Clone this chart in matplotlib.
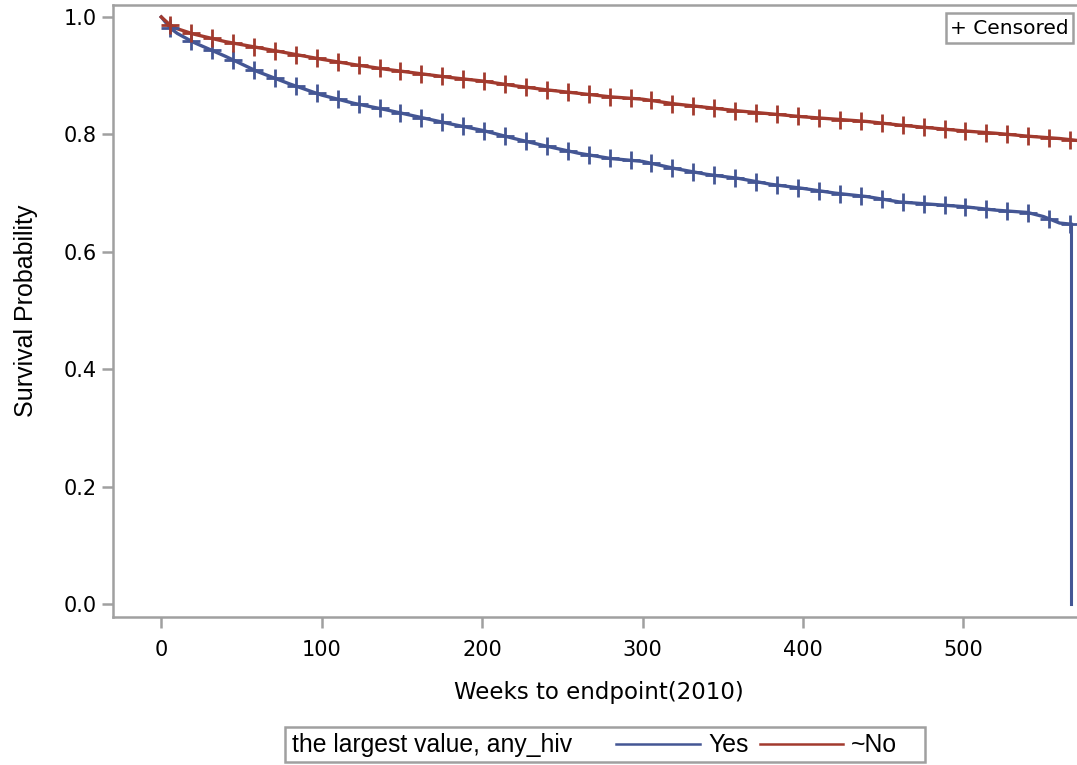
import matplotlib
matplotlib.use("Agg")
import matplotlib.pyplot as plt
from matplotlib.patches import Rectangle
from matplotlib.lines import Line2D
import numpy as np

# Kaplan-Meier estimates, weeks to endpoint (2010)
weeks_yes = [0, 5.6, 10, 20, 40, 60, 80, 100, 120, 140, 160, 180, 200, 220, 240,
             260, 280, 300, 320, 340, 360, 380, 400, 420, 440, 460, 480, 500,
             520, 540, 550, 560, 567.3, 567.3]
surv_yes = [1.0, 0.981, 0.972, 0.957, 0.933, 0.907, 0.886, 0.867, 0.853, 0.842,
            0.830, 0.818, 0.807, 0.793, 0.780, 0.768, 0.759, 0.754, 0.742, 0.732,
            0.725, 0.715, 0.708, 0.700, 0.694, 0.685, 0.681, 0.677, 0.671, 0.667,
            0.660, 0.649, 0.647, 0.0]

weeks_no = [0, 5.6, 10, 20, 40, 60, 80, 100, 120, 140, 160, 180, 200, 220, 240,
            260, 280, 300, 320, 340, 360, 380, 400, 420, 440, 460, 480, 500,
            520, 540, 560, 570]
surv_no = [1.0, 0.986, 0.980, 0.971, 0.958, 0.948, 0.938, 0.928, 0.919, 0.911,
           0.904, 0.897, 0.891, 0.883, 0.876, 0.870, 0.864, 0.860, 0.852, 0.846,
           0.840, 0.835, 0.830, 0.826, 0.822, 0.816, 0.811, 0.806, 0.802, 0.797,
           0.793, 0.790]

# Censoring times (weeks)
censor_weeks = [5.6, 18.6, 31.7, 44.7, 57.8, 70.8, 83.9, 96.9, 110.0, 123.0,
                136.1, 149.1, 162.1, 175.2, 188.2, 201.3, 214.3, 227.4, 240.4,
                253.5, 266.5, 279.6, 292.6, 305.6, 318.7, 331.7, 344.8, 357.8,
                370.9, 383.9, 397.0, 410.0, 423.1, 436.1, 449.2, 462.2, 475.2,
                488.3, 501.3, 514.4, 527.4, 540.5, 553.5, 566.6]

x_ticks = [0, 100, 200, 300, 400, 500]
y_ticks = [0.0, 0.2, 0.4, 0.6, 0.8, 1.0]

group_title = "the largest value, any_hiv"
group_labels = ["Yes", "~No"]

BLUE = "#445694"
RED = "#A23A2E"
GREY = "#A0A0A0"
W, H = 1077, 765

fig = plt.figure(figsize=(W / 100, H / 100), dpi=100)
# axes placed in pixel units (left, bottom, right, top); the frame runs off the right edge
l, b, r, t = 113.3, 617.3, 1077, 5
ax = fig.add_axes([l / W, 1 - b / H, (r - l) / W, (b - t) / H])

ax.plot(weeks_yes[:-1], surv_yes[:-1], color=BLUE, lw=2.4, solid_joinstyle="round")
ax.plot(weeks_yes[-2:], surv_yes[-2:], color=BLUE, lw=2.2)
ax.plot(weeks_no, surv_no, color=RED, lw=2.4, solid_joinstyle="round")

cw = np.array(censor_weeks)
cy_yes = np.interp(cw, weeks_yes[:-1], surv_yes[:-1])
cy_no = np.interp(cw, weeks_no, surv_no)
ax.plot(cw, cy_yes, ls="none", marker="+", ms=12.5, mew=2.0, color=BLUE)
ax.plot(cw, cy_no, ls="none", marker="+", ms=12.5, mew=2.0, color=RED)

ax.set_xlim((l - 161.3) / 1.604, (r - 161.3) / 1.604)
ax.set_ylim((604 - b) / 587, (604 - t) / 587)
ax.set_xticks(x_ticks)
ax.set_yticks(y_ticks)
ax.set_yticklabels([f"{v:.1f}" for v in y_ticks])

for s in ax.spines.values():
    s.set_color(GREY)
    s.set_linewidth(1.8)
ax.spines["right"].set_visible(False)
ax.tick_params(axis="both", direction="out", length=8, width=1.8, color=GREY,
               labelsize=15, labelcolor="black")
ax.tick_params(axis="x", pad=8)
ax.tick_params(axis="y", pad=4)
for lab in ax.get_xticklabels() + ax.get_yticklabels():
    lab.set_family("DejaVu Sans")

ax.set_xlabel("Weeks to endpoint(2010)", fontsize=16.5, family="DejaVu Sans")
ax.xaxis.set_label_coords((599 - l) / (r - l), -(692 - b) / (b - t))
ax.xaxis.label.set_va("center")
ax.set_ylabel("Survival Probability", fontsize=18, family="Liberation Sans", labelpad=18)

# "+ Censored" key box
fig.patches.append(Rectangle((946 / W, 1 - 43 / H), (1073 - 946) / W, 30 / H,
                             transform=fig.transFigure, fill=True, facecolor="white",
                             edgecolor=GREY, lw=1.8))
fig.text(1009.5 / W, 1 - 28.5 / H, "+ Censored", ha="center", va="center",
         fontsize=14.5, family="DejaVu Sans")

# group legend below the axes
fig.patches.append(Rectangle((285 / W, 1 - 762 / H), (925 - 285) / W, 35 / H,
                             transform=fig.transFigure, fill=True, facecolor="white",
                             edgecolor=GREY, lw=1.8))
fig.text(292 / W, 1 - 745 / H, group_title, ha="left", va="center",
         fontsize=17.8, family="Liberation Sans")
fig.lines.append(Line2D([616 / W, 700 / W], [1 - 744 / H] * 2, transform=fig.transFigure,
                        color=BLUE, lw=1.8))
fig.text(708 / W, 1 - 745 / H, group_labels[0], ha="left", va="center",
         fontsize=17.8, family="Liberation Sans")
fig.lines.append(Line2D([760 / W, 843 / W], [1 - 744 / H] * 2, transform=fig.transFigure,
                        color=RED, lw=1.8))
fig.text(851 / W, 1 - 745 / H, group_labels[1], ha="left", va="center",
         fontsize=17.8, family="Liberation Sans")

fig.savefig("out.png", dpi=100)
